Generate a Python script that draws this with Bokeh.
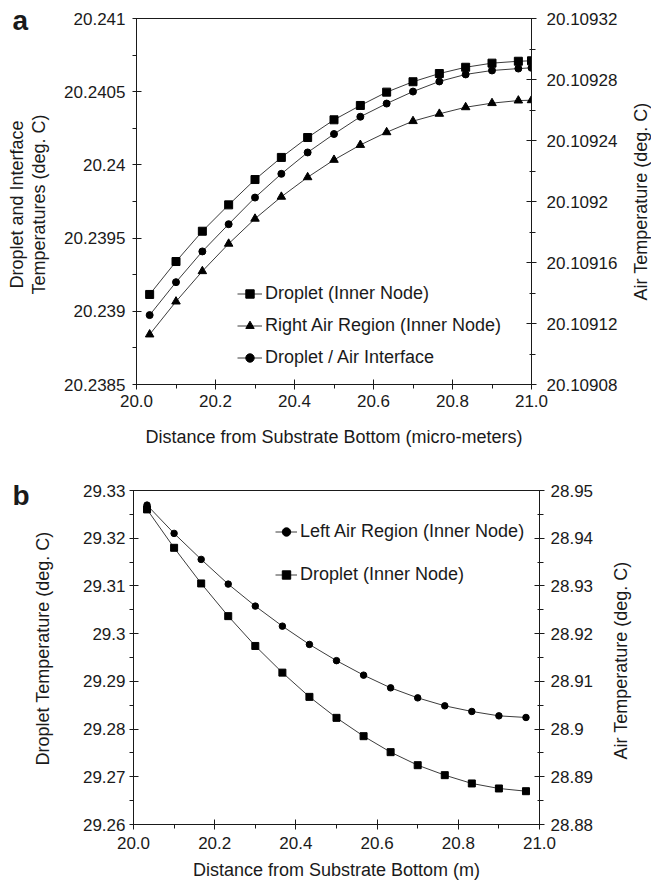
import math

from bokeh.plotting import figure
from bokeh.layouts import column, row
from bokeh.models import Range1d, LinearAxis, FixedTicker, Legend, LegendItem, Label
from bokeh.embed import file_html
from bokeh.resources import INLINE

FONT = "Liberation Sans"
INK = "#1a1a1a"
LINE = "#3c3c3c"

# ---------------- panel (a): micro-meter scale ----------------
dist_a = [20.0333, 20.1, 20.1667, 20.2333, 20.3, 20.3667, 20.4333, 20.5,
          20.5667, 20.6333, 20.7, 20.7667, 20.8333, 20.9, 20.9667, 21.0]
droplet_a = [20.239115, 20.239340, 20.239547, 20.239727, 20.239900, 20.240051,
             20.240187, 20.240308, 20.240406, 20.240497, 20.240568, 20.240624,
             20.240667, 20.240695, 20.240708, 20.240711]
interface_a = [20.238974, 20.239199, 20.239409, 20.239595, 20.239777, 20.239939,
               20.240085, 20.240211, 20.240329, 20.240419, 20.240501, 20.240570,
               20.240618, 20.240645, 20.240658, 20.240663]
right_air_a = [20.1091128, 20.1091344, 20.1091543, 20.1091723, 20.1091887, 20.1092031,
               20.1092159, 20.1092273, 20.1092371, 20.1092454, 20.1092527, 20.1092575,
               20.1092618, 20.1092645, 20.1092662, 20.1092664]

x_ticks = [20.0, 20.2, 20.4, 20.6, 20.8, 21.0]
x_labels = ["20.0", "20.2", "20.4", "20.6", "20.8", "21.0"]
x_minor = [20.1, 20.3, 20.5, 20.7, 20.9]

a_left_ticks = [20.2385, 20.239, 20.2395, 20.24, 20.2405, 20.241]
a_left_labels = ["20.2385", "20.239", "20.2395", "20.24", "20.2405", "20.241"]
a_left_minor = [20.23875, 20.23925, 20.23975, 20.24025, 20.24075]
a_right_ticks = [20.10908, 20.10912, 20.10916, 20.1092, 20.10924, 20.10928, 20.10932]
a_right_labels = ["20.10908", "20.10912", "20.10916", "20.1092", "20.10924", "20.10928", "20.10932"]
a_right_minor = [20.1091, 20.10914, 20.10918, 20.10922, 20.10926, 20.1093]

# ---------------- panel (b): metre scale ----------------
dist_b = [20.0333, 20.1, 20.1667, 20.2333, 20.3, 20.3667, 20.4333, 20.5,
          20.5667, 20.6333, 20.7, 20.7667, 20.8333, 20.9, 20.9667]
left_air_b = [28.94694, 28.94101, 28.93556, 28.93038, 28.92577, 28.92157, 28.91774,
              28.91434, 28.91130, 28.90864, 28.90654, 28.90487, 28.90369, 28.90277, 28.90243]
droplet_b = [29.32604, 29.31799, 29.31052, 29.30367, 29.29742, 29.29183, 29.28675,
             29.28235, 29.27851, 29.27516, 29.27243, 29.27034, 29.26860, 29.26755, 29.26698]

b_left_ticks = [29.26, 29.27, 29.28, 29.29, 29.30, 29.31, 29.32, 29.33]
b_left_labels = ["29.26", "29.27", "29.28", "29.29", "29.3", "29.31", "29.32", "29.33"]
b_left_minor = [29.265, 29.275, 29.285, 29.295, 29.305, 29.315, 29.325]
b_right_ticks = [28.88, 28.89, 28.90, 28.91, 28.92, 28.93, 28.94, 28.95]
b_right_labels = ["28.88", "28.89", "28.9", "28.91", "28.92", "28.93", "28.94", "28.95"]
b_right_minor = [28.885, 28.895, 28.905, 28.915, 28.925, 28.935, 28.945]

title_a_left = ["Droplet and Interface", "Temperatures (deg. C)"]
title_b_left = "Droplet Temperature (deg. C)"
title_air = "Air Temperature (deg. C)"


def style_axis(ax, ticks, labels, minor, tin, tout, mtin, mtout, standoff):
    ax.ticker = FixedTicker(ticks=ticks, minor_ticks=minor)
    ax.major_label_overrides = dict(zip(ticks, labels))
    ax.axis_line_color = INK
    ax.major_tick_line_color = INK
    ax.minor_tick_line_color = INK
    ax.major_tick_in = tin
    ax.major_tick_out = tout
    ax.minor_tick_in = mtin
    ax.minor_tick_out = mtout
    ax.major_label_standoff = standoff
    ax.major_label_text_font = FONT
    ax.major_label_text_font_size = "17px"
    ax.major_label_text_color = INK
    ax.axis_label_text_font = FONT
    ax.axis_label_text_font_size = "18px"
    ax.axis_label_text_font_style = "normal"
    ax.axis_label_text_color = INK


def base_figure(width, height, y_rng, air_rng, left, right, top, bottom):
    p = figure(width=width, height=height,
               x_range=Range1d(20.0, 21.0), y_range=Range1d(*y_rng),
               output_backend="svg", toolbar_location=None,
               min_border_left=left, min_border_right=right,
               min_border_top=top, min_border_bottom=bottom)
    p.extra_y_ranges = {"air": Range1d(*air_rng)}
    p.grid.visible = False
    p.outline_line_color = INK
    p.background_fill_color = "white"
    p.border_fill_color = "white"
    return p


def text_strip(width, height):
    # narrow blank canvas that carries panel letters and rotated titles
    s = figure(width=width, height=height, x_range=Range1d(0, 1), y_range=Range1d(0, 1),
               output_backend="svg", toolbar_location=None,
               x_axis_location=None, y_axis_location=None,
               min_border=0, min_border_left=0, min_border_right=0,
               min_border_top=0, min_border_bottom=0)
    s.grid.visible = False
    s.outline_line_color = None
    s.background_fill_color = "white"
    s.border_fill_color = "white"
    return s


def text_label(p, x, y, text, size, angle=0.0, bold=False, align="center", baseline="middle"):
    p.add_layout(Label(x=x, y=y, x_units="screen", y_units="screen", text=text,
                       angle=angle, text_align=align, text_baseline=baseline,
                       text_font=FONT, text_font_size=size, text_color=INK,
                       text_font_style="bold" if bold else "normal"))


W_LEFT = 55
W_RIGHT_A = 31
W_RIGHT_B = 53
H_A = 460
H_B = 883 - H_A

# ================= panel (a) =================
pa = base_figure(651 - W_LEFT - W_RIGHT_A, H_A, (20.2385, 20.241), (20.10908, 20.10932),
                 136 - W_LEFT, 651 - W_RIGHT_A - 532, 18, 76)

xa = pa.xaxis[0]
style_axis(xa, x_ticks, x_labels, x_minor, 5, 5, 0, 4, 5)
xa.axis_label = "Distance from Substrate Bottom (micro-meters)"
xa.axis_label_standoff = 17

ya = pa.yaxis[0]
style_axis(ya, a_left_ticks, a_left_labels, a_left_minor, 5, 4, 0, 4, 7)

ra = LinearAxis(y_range_name="air")
style_axis(ra, a_right_ticks, a_right_labels, a_right_minor, 5, 5, 2, 4, 10)
pa.add_layout(ra, "right")

l_drop = pa.line(dist_a, droplet_a, line_color=LINE, line_width=1)
s_drop = pa.scatter(dist_a, droplet_a, marker="square", size=8, color="black")
l_air = pa.line(dist_a, right_air_a, line_color=LINE, line_width=1, y_range_name="air")
s_air = pa.scatter(dist_a, right_air_a, marker="triangle", size=8.5, color="black",
                   y_range_name="air")
l_int = pa.line(dist_a, interface_a, line_color=LINE, line_width=1)
s_int = pa.scatter(dist_a, interface_a, marker="circle", size=7, color="black")

leg_a = Legend(items=[
    LegendItem(label="Droplet (Inner Node)", renderers=[l_drop, s_drop]),
    LegendItem(label="Right Air Region (Inner Node)", renderers=[l_air, s_air]),
    LegendItem(label="Droplet / Air Interface", renderers=[l_int, s_int]),
], location=(101, 16), orientation="vertical", border_line_color=None,
    background_fill_alpha=0, padding=0, margin=0, spacing=11,
    glyph_width=25, glyph_height=21, label_height=21, label_standoff=3,
    label_text_font=FONT, label_text_font_size="18px", label_text_color=INK)
pa.add_layout(leg_a)

# right-hand title strip, its frame shares the panel's vertical extent (18..384)
rta = text_strip(W_RIGHT_A, H_A)
text_label(rta, 640 - (651 - W_RIGHT_A), 384 - 201, title_air, "18px", angle=math.pi / 2)

# ================= panel (b) =================
pb = base_figure(651 - W_LEFT - W_RIGHT_B, H_B, (29.26, 29.33), (28.88, 28.95),
                 133 - W_LEFT, 651 - W_RIGHT_B - 539, 490 - H_A, 59)

xb = pb.xaxis[0]
style_axis(xb, x_ticks, x_labels, x_minor, 5, 5, 0, 4, 7)
xb.axis_label = "Distance from Substrate Bottom (m)"
xb.axis_label_standoff = 8

yb = pb.yaxis[0]
style_axis(yb, b_left_ticks, b_left_labels, b_left_minor, 5, 4, 0, 4, 4)

rb = LinearAxis(y_range_name="air")
style_axis(rb, b_right_ticks, b_right_labels, b_right_minor, 5, 5, 2, 4, 6)
pb.add_layout(rb, "right")

l_left = pb.line(dist_b, left_air_b, line_color=LINE, line_width=1, y_range_name="air")
s_left = pb.scatter(dist_b, left_air_b, marker="circle", size=6.5, color="black",
                    y_range_name="air")
l_dropb = pb.line(dist_b, droplet_b, line_color=LINE, line_width=1)
s_dropb = pb.scatter(dist_b, droplet_b, marker="square", size=7, color="black")

leg_b = Legend(items=[
    LegendItem(label="Left Air Region (Inner Node)", renderers=[l_left, s_left]),
    LegendItem(label="Droplet (Inner Node)", renderers=[l_dropb, s_dropb]),
], location=(142, 239), orientation="vertical", border_line_color=None,
    background_fill_alpha=0, padding=0, margin=0, spacing=22,
    glyph_width=22, glyph_height=21, label_height=21, label_standoff=3,
    label_text_font=FONT, label_text_font_size="18px", label_text_color=INK)
pb.add_layout(leg_b)

# frame of panel (b) spans page rows 490..824
rtb = text_strip(W_RIGHT_B, H_B)
text_label(rtb, 620 - (651 - W_RIGHT_B), 824 - 660, title_air, "18px", angle=math.pi / 2)

# ================= full-height left strip: panel letters and left titles =================
left_strip = text_strip(W_LEFT, 883)
text_label(left_strip, 12, 883 - 20, "a", "28px", bold=True, align="left", baseline="alphabetic")
text_label(left_strip, 16, 883 - 204, title_a_left[0], "18px", angle=math.pi / 2)
text_label(left_strip, 38, 883 - 204, title_a_left[1], "18px", angle=math.pi / 2)
text_label(left_strip, 12, 883 - 495, "b", "28px", bold=True, align="left", baseline="alphabetic")
text_label(left_strip, 42, 883 - 648, title_b_left, "18px", angle=math.pi / 2)

panels = column(row(pa, rta, spacing=0), row(pb, rtb, spacing=0), spacing=0)
layout = row(left_strip, panels, spacing=0)
open("out.html", "w").write(file_html(layout, INLINE))
